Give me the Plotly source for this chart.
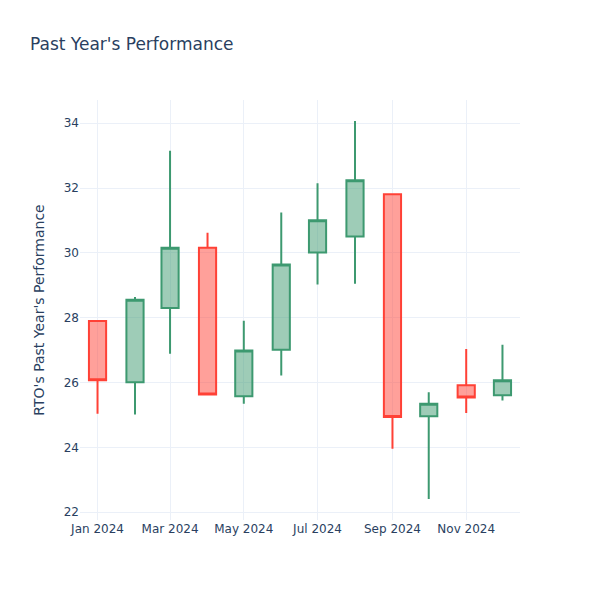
import plotly.graph_objects as go

dates = ["2024-01-01", "2024-02-01", "2024-03-01", "2024-04-01", "2024-05-01", "2024-06-01",
         "2024-07-01", "2024-08-01", "2024-09-01", "2024-10-01", "2024-11-01", "2024-12-01"]
open_ = [27.90, 26.01, 28.30, 30.16, 25.58, 27.01, 30.01, 30.51, 31.81, 24.96, 25.92, 25.61]
high = [27.90, 28.64, 33.15, 30.62, 27.91, 31.25, 32.15, 34.07, 31.84, 25.70, 27.04, 27.17]
low = [25.04, 25.02, 26.89, 25.63, 25.35, 26.22, 29.03, 29.05, 23.96, 22.41, 25.06, 25.45]
close = [26.07, 28.56, 30.16, 25.63, 26.99, 29.64, 31.01, 32.24, 24.94, 25.35, 25.54, 26.07]

fig = go.Figure(go.Candlestick(x=dates, open=open_, high=high, low=low, close=close))
fig.update_layout(
    template="plotly_white",
    font=dict(family="DejaVu Sans"),
    title=dict(text="Past Year's Performance", x=22 / 600, xanchor="left",
               y=1 - 36 / 600, yanchor="middle"),
    yaxis_title="RTO's Past Year's Performance",
    xaxis_rangeslider_visible=False,
    width=600, height=600,
    margin=dict(l=72, r=88, t=92, b=88),
    showlegend=False,
)
fig.write_html("out.html")
